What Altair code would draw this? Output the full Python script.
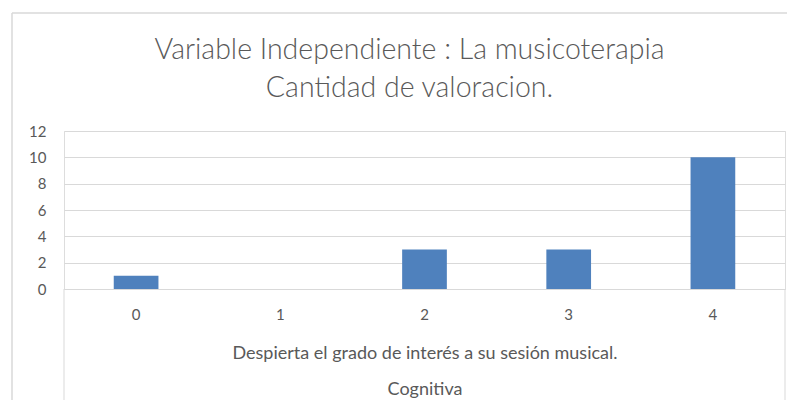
import altair as alt
import pandas as pd

categories = ["0", "1", "2", "3", "4"]
values = [1, 0, 3, 3, 10]
y_ticks = [0, 2, 4, 6, 8, 10, 12]
title_lines = ["Variable Independiente : La musicoterapia", "Cantidad de valoracion."]
axis_title_lines = ["Despierta el grado de interés a su sesión musical.", "Cognitiva"]

df = pd.DataFrame({"cat": categories, "val": values})
one = pd.DataFrame({"k": [0]})

FONT = "Lato"
GREY = "#595959"
LINE = "#d9d9d9"
W, H = 721, 158

bars = alt.Chart(df).mark_bar(color="#4f81bd").encode(
    x=alt.X("cat:N", sort=categories,
            scale=alt.Scale(paddingInner=0.69, paddingOuter=0.345),
            axis=alt.Axis(title=axis_title_lines, labelAngle=0, ticks=False,
                          labelFontSize=15, labelColor=GREY, labelFont=FONT,
                          labelPadding=18, domainColor=LINE,
                          titleFont=FONT, titleFontSize=18, titleColor=GREY,
                          titleFontWeight="normal", titleLineHeight=36,
                          titlePadding=22)),
    y=alt.Y("val:Q", scale=alt.Scale(domain=[0, 12]),
            axis=alt.Axis(title=None, values=y_ticks, domain=False, ticks=False,
                          labelFontSize=15, labelColor=GREY, labelFont=FONT,
                          labelPadding=18, gridColor=LINE, gridWidth=1)),
)

sep_left = alt.Chart(one).mark_rule(color=LINE).encode(
    x=alt.value(0), y=alt.value(H), y2=alt.value(272))
sep_right = alt.Chart(one).mark_rule(color=LINE).encode(
    x=alt.value(W), y=alt.value(H), y2=alt.value(272))
frame_left = alt.Chart(one).mark_rule(color=LINE, strokeWidth=1.5).encode(
    x=alt.value(-52), y=alt.value(-118), y2=alt.value(280))
frame_top = alt.Chart(one).mark_rule(color=LINE, strokeWidth=1.5).encode(
    x=alt.value(-52), x2=alt.value(740), y=alt.value(-118))

chart = alt.layer(bars, sep_left, sep_right, frame_left, frame_top).properties(
    width=W, height=H,
    autosize=alt.AutoSizeParams(type="none"),
    padding={"left": 56, "top": 123, "right": 2, "bottom": 111},
    title=alt.TitleParams(text=title_lines, font=FONT, fontSize=28.5,
                          fontWeight=300, color=GREY, lineHeight=38,
                          anchor="middle", frame="group", dx=-15, offset=-90),
).configure_view(stroke=None).configure(background="white")

chart.save("out.html", embed_options={"renderer": "svg", "actions": False})
